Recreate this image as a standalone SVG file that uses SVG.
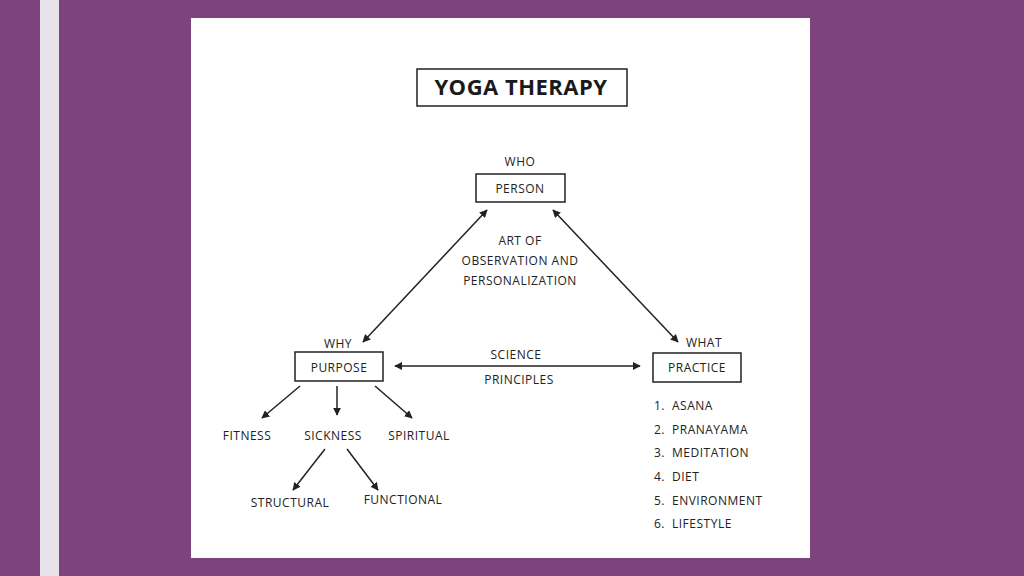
<svg xmlns="http://www.w3.org/2000/svg" width="1024" height="576" viewBox="0 0 1024 576">
<defs>
<style>
.t{font-family:"Open Sans","Liberation Sans",sans-serif;font-size:12px;fill:#222;letter-spacing:0.5px}
.m{text-anchor:middle}
.box{fill:#fff;stroke:#222;stroke-width:1.5}
.ln{stroke:#222;stroke-width:1.5;fill:none}
</style>
<marker id="ah" viewBox="0 0 10 10" refX="9" refY="5" markerWidth="8" markerHeight="8" markerUnits="userSpaceOnUse" orient="auto-start-reverse">
<path d="M0,0 L10,5 L0,10 z" fill="#222"/>
</marker>
</defs>
<rect x="0" y="0" width="1024" height="576" fill="#7D437C"/>
<rect x="40" y="0" width="19" height="576" fill="#E8E2EA"/>
<rect x="191" y="18" width="619" height="540" fill="#fff"/>

<g id="title">
<rect x="417" y="69" width="210" height="37" class="box"/>
<text x="521" y="95" class="m" style="font-family:'Open Sans','Liberation Sans',sans-serif;font-weight:bold;font-size:22px;fill:#1a1a1a;letter-spacing:0.5px">YOGA THERAPY</text>
</g>

<g id="connectors">
<line x1="487" y1="210" x2="363" y2="342" class="ln" marker-start="url(#ah)" marker-end="url(#ah)"/>
<line x1="553" y1="210" x2="678" y2="342" class="ln" marker-start="url(#ah)" marker-end="url(#ah)"/>
<line x1="395" y1="366" x2="640" y2="366" class="ln" marker-start="url(#ah)" marker-end="url(#ah)"/>
<line x1="300" y1="386" x2="262" y2="418" class="ln" marker-end="url(#ah)"/>
<line x1="337" y1="386" x2="337" y2="415" class="ln" marker-end="url(#ah)"/>
<line x1="375" y1="386" x2="412" y2="418" class="ln" marker-end="url(#ah)"/>
<line x1="325" y1="449" x2="293" y2="490" class="ln" marker-end="url(#ah)"/>
<line x1="347" y1="449" x2="378" y2="490" class="ln" marker-end="url(#ah)"/>
</g>

<g id="person">
<text x="520" y="166" class="t m">WHO</text>
<rect x="476" y="174" width="89" height="28" class="box"/>
<text x="520" y="193" class="t m">PERSON</text>
</g>

<g id="art-label">
<text x="520" y="245" class="t m">ART OF</text>
<text x="520" y="265" class="t m">OBSERVATION AND</text>
<text x="520" y="285" class="t m">PERSONALIZATION</text>
</g>

<g id="purpose">
<text x="338" y="348" class="t m">WHY</text>
<rect x="295" y="352" width="88" height="29" class="box"/>
<text x="339" y="372" class="t m">PURPOSE</text>
</g>

<g id="science-label">
<text x="516" y="359" class="t m">SCIENCE</text>
<text x="519" y="384" class="t m">PRINCIPLES</text>
</g>

<g id="practice">
<text x="704" y="347" class="t m">WHAT</text>
<rect x="653" y="353" width="88" height="29" class="box"/>
<text x="697" y="372" class="t m">PRACTICE</text>
</g>

<g id="practice-list">
<text x="654" y="410" class="t">1.</text><text x="672" y="410" class="t">ASANA</text>
<text x="654" y="434" class="t">2.</text><text x="672" y="434" class="t">PRANAYAMA</text>
<text x="654" y="457" class="t">3.</text><text x="672" y="457" class="t">MEDITATION</text>
<text x="654" y="481" class="t">4.</text><text x="672" y="481" class="t">DIET</text>
<text x="654" y="505" class="t">5.</text><text x="672" y="505" class="t">ENVIRONMENT</text>
<text x="654" y="528" class="t">6.</text><text x="672" y="528" class="t">LIFESTYLE</text>
</g>

<g id="fitness"><text x="247" y="440" class="t m">FITNESS</text></g>
<g id="sickness"><text x="333" y="440" class="t m">SICKNESS</text></g>
<g id="spiritual"><text x="419" y="440" class="t m">SPIRITUAL</text></g>
<g id="structural"><text x="290" y="507" class="t m">STRUCTURAL</text></g>
<g id="functional"><text x="403" y="504" class="t m">FUNCTIONAL</text></g>
</svg>
